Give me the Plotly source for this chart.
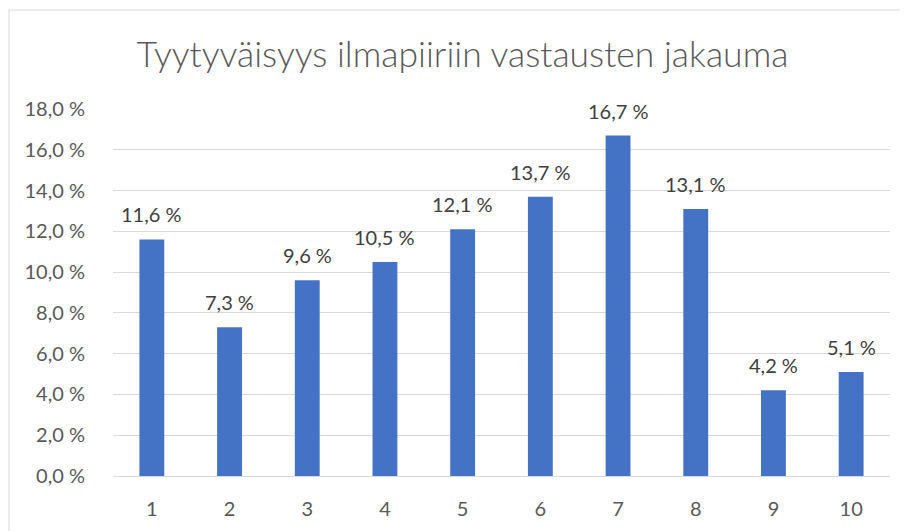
import plotly.graph_objects as go

categories = ["1", "2", "3", "4", "5", "6", "7", "8", "9", "10"]
values = [11.6, 7.3, 9.6, 10.5, 12.1, 13.7, 16.7, 13.1, 4.2, 5.1]
title_text = "Tyytyväisyys ilmapiiriin vastausten jakauma"

FONT = "Lato, 'Open Sans', sans-serif"
GREY = "#595959"

W, H = 900, 523
ML, MR, MT, MB = 105, 18, 101, 55
PW, PH = W - ML - MR, H - MT - MB

fig = go.Figure()
fig.add_trace(go.Bar(x=categories, y=values, marker=dict(color="#4472C4", line=dict(width=0)),
                     hoverinfo="skip"))

for i, v in enumerate(values):
    fig.add_annotation(x=i, y=v, text=f"{v:.1f} %".replace(".", ","), showarrow=False,
                       yanchor="bottom", yshift=11, font=dict(family=FONT, size=20, color="#404040"))

fig.add_shape(type="rect", xref="paper", yref="paper",
              x0=-(ML - 1) / PW, x1=1.3, y0=-0.4, y1=1 + (MT - 2) / PH,
              line=dict(color="#d9d9d9", width=1), fillcolor="rgba(0,0,0,0)", layer="below")

fig.update_layout(
    width=W, height=H,
    margin=dict(l=ML, r=MR, t=MT, b=MB),
    paper_bgcolor="white", plot_bgcolor="white",
    separators=", ",
    bargap=0.68,
    showlegend=False,
    title=dict(text=title_text, x=0.505, xanchor="center", y=1 - 47 / H, yanchor="middle",
               font=dict(family=FONT, size=35.5, color=GREY, weight=300)),
    font=dict(family=FONT, color=GREY, size=20),
    xaxis=dict(type="category", showgrid=False, showline=False, ticks="outside", ticklen=15,
               tickcolor="rgba(0,0,0,0)", tickfont=dict(size=20, color=GREY)),
    yaxis=dict(range=[0, 18], dtick=2, tickformat=".1f", ticksuffix=" %",
               showgrid=True, gridcolor="#d9d9d9", gridwidth=1,
               zeroline=True, zerolinecolor="#d9d9d9", zerolinewidth=1,
               ticks="outside", ticklen=23, tickcolor="rgba(0,0,0,0)",
               tickfont=dict(size=20, color=GREY)),
)

fig.write_html("out.html")
